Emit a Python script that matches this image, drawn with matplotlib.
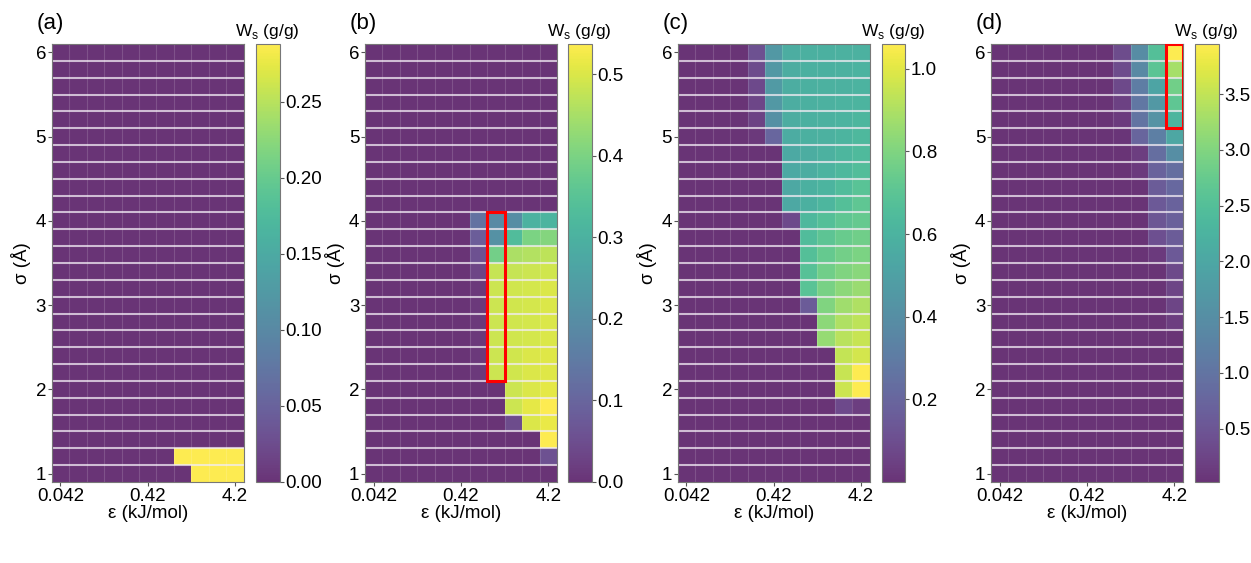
import numpy as np
import matplotlib
matplotlib.use("Agg")
import matplotlib.pyplot as plt
from matplotlib.patches import Rectangle

plt.rcParams['font.family'] = ['Liberation Sans', 'DejaVu Sans']

# epsilon (kJ/mol), log spaced columns
eps = [0.042, 0.0666, 0.1055, 0.1673, 0.2651, 0.42, 0.6657, 1.055, 1.672, 2.650, 4.2]
# sigma (A) rows, bottom to top
sigma = [1.0, 1.2, 1.4, 1.6, 1.8, 2.0, 2.2, 2.4, 2.6, 2.8, 3.0, 3.2, 3.4,
         3.6, 3.8, 4.0, 4.2, 4.4, 4.6, 4.8, 5.0, 5.2, 5.4, 5.6, 5.8, 6.0]

# W_s (g/g), rows written from sigma=6.0 (top) down to sigma=1.0
ws_a = [[0.0] * 11 for _ in range(24)] + [
    [0, 0, 0, 0, 0, 0, 0, 0.288, 0.288, 0.288, 0.288],
    [0, 0, 0, 0, 0, 0, 0, 0, 0.288, 0.288, 0.288],
]

ws_b = [[0.0] * 11 for _ in range(10)] + [
    [0, 0, 0, 0, 0, 0, 0.13, 0.19, 0.20, 0.30, 0.31],
    [0, 0, 0, 0, 0, 0, 0.08, 0.21, 0.33, 0.40, 0.41],
    [0, 0, 0, 0, 0, 0, 0.055, 0.39, 0.455, 0.46, 0.47],
    [0, 0, 0, 0, 0, 0, 0.03, 0.48, 0.48, 0.485, 0.49],
    [0, 0, 0, 0, 0, 0, 0.01, 0.485, 0.49, 0.495, 0.50],
    [0, 0, 0, 0, 0, 0, 0.01, 0.485, 0.49, 0.495, 0.50],
    [0, 0, 0, 0, 0, 0, 0.01, 0.485, 0.49, 0.495, 0.50],
    [0, 0, 0, 0, 0, 0, 0.01, 0.485, 0.49, 0.495, 0.50],
    [0, 0, 0, 0, 0, 0, 0.01, 0.485, 0.49, 0.50, 0.505],
    [0, 0, 0, 0, 0, 0, 0.01, 0.485, 0.49, 0.50, 0.505],
    [0, 0, 0, 0, 0, 0, 0, 0, 0.485, 0.50, 0.51],
    [0, 0, 0, 0, 0, 0, 0, 0, 0.485, 0.51, 0.537],
    [0, 0, 0, 0, 0, 0, 0, 0, 0.045, 0.50, 0.515],
    [0, 0, 0, 0, 0, 0, 0, 0, 0, 0, 0.535],
    [0, 0, 0, 0, 0, 0, 0, 0, 0, 0, 0.055],
    [0, 0, 0, 0, 0, 0, 0, 0, 0, 0, 0],
]

ws_c = [
    [0, 0, 0, 0, 0.11, 0.45, 0.57, 0.58, 0.58, 0.59, 0.59],
    [0, 0, 0, 0, 0.09, 0.45, 0.57, 0.58, 0.58, 0.59, 0.60],
    [0, 0, 0, 0, 0.08, 0.46, 0.57, 0.58, 0.59, 0.59, 0.60],
    [0, 0, 0, 0, 0.07, 0.45, 0.57, 0.58, 0.59, 0.60, 0.61],
    [0, 0, 0, 0, 0.05, 0.41, 0.57, 0.58, 0.59, 0.60, 0.62],
    [0, 0, 0, 0, 0.02, 0.20, 0.56, 0.58, 0.59, 0.61, 0.63],
    [0, 0, 0, 0, 0, 0, 0.55, 0.57, 0.59, 0.62, 0.64],
    [0, 0, 0, 0, 0, 0, 0.55, 0.57, 0.60, 0.63, 0.66],
    [0, 0, 0, 0, 0, 0, 0.54, 0.58, 0.61, 0.65, 0.69],
    [0, 0, 0, 0, 0, 0, 0.54, 0.58, 0.62, 0.67, 0.71],
    [0, 0, 0, 0, 0, 0, 0.08, 0.63, 0.67, 0.71, 0.73],
    [0, 0, 0, 0, 0, 0, 0, 0.65, 0.70, 0.74, 0.76],
    [0, 0, 0, 0, 0, 0, 0, 0.67, 0.73, 0.77, 0.79],
    [0, 0, 0, 0, 0, 0, 0, 0.68, 0.76, 0.80, 0.82],
    [0, 0, 0, 0, 0, 0, 0, 0.69, 0.78, 0.83, 0.86],
    [0, 0, 0, 0, 0, 0, 0, 0.15, 0.80, 0.87, 0.90],
    [0, 0, 0, 0, 0, 0, 0, 0, 0.83, 0.90, 0.93],
    [0, 0, 0, 0, 0, 0, 0, 0, 0.85, 0.92, 0.95],
    [0, 0, 0, 0, 0, 0, 0, 0, 0, 0.94, 0.97],
    [0, 0, 0, 0, 0, 0, 0, 0, 0, 0.95, 1.06],
    [0, 0, 0, 0, 0, 0, 0, 0, 0, 0.96, 1.06],
    [0, 0, 0, 0, 0, 0, 0, 0, 0, 0.08, 0.04],
] + [[0.0] * 11 for _ in range(4)]

b = 0.02
ws_d = [
    [b, b, b, b, b, b, b, 0.35, 1.45, 2.50, 3.95],
    [b, b, b, b, b, b, b, 0.35, 1.40, 2.60, 3.30],
    [b, b, b, b, b, b, b, 0.30, 1.15, 1.95, 2.85],
    [b, b, b, b, b, b, b, 0.20, 1.05, 1.70, 2.65],
    [b, b, b, b, b, b, b, 0.10, 1.00, 1.60, 2.30],
    [b, b, b, b, b, b, b, 0.05, 0.75, 1.20, 2.00],
    [b, b, b, b, b, b, b, b, 0.15, 0.90, 1.50],
    [b, b, b, b, b, b, b, b, 0.10, 0.70, 0.90],
    [b, b, b, b, b, b, b, b, b, 0.60, 0.80],
    [b, b, b, b, b, b, b, b, b, 0.55, 0.70],
    [b, b, b, b, b, b, b, b, b, 0.50, 0.65],
    [b, b, b, b, b, b, b, b, b, 0.40, 0.60],
    [b, b, b, b, b, b, b, b, b, 0.10, 0.55],
    [b, b, b, b, b, b, b, b, b, b, 0.30],
    [b, b, b, b, b, b, b, b, b, b, 0.25],
    [b, b, b, b, b, b, b, b, b, b, 0.25],
    [b, b, b, b, b, b, b, b, b, b, 0.15],
] + [[b] * 11 for _ in range(9)]

panels = [
    ("(a)", ws_a, [0.00, 0.05, 0.10, 0.15, 0.20, 0.25], "%.2f", None),
    ("(b)", ws_b, [0.0, 0.1, 0.2, 0.3, 0.4, 0.5], "%.1f", (7, 2.2, 4.0)),
    ("(c)", ws_c, [0.2, 0.4, 0.6, 0.8, 1.0], "%.1f", None),
    ("(d)", ws_d, [0.5, 1.0, 1.5, 2.0, 2.5, 3.0, 3.5], "%.1f", (10, 5.2, 6.0)),
]

# cell edges (geometric for the log axis)
e = np.array(eps)
s = np.array(sigma)
xe = np.sqrt(e[:-1] * e[1:])
xe = np.concatenate([[e[0] ** 2 / xe[0]], xe, [e[-1] ** 2 / xe[-1]]])
ye = (s[:-1] + s[1:]) / 2
ye = np.concatenate([[s[0] - 0.1], ye, [s[-1] + 0.1]])

W, H = 1251, 563
fig = plt.figure(figsize=(W / 100, H / 100), dpi=100)

ax_left = [51.7, 365, 677.7, 991]
cb_left = [256, 568, 881.7, 1195]
top, bot = 44, 482
fs = 13.5

for i, (lab, ws, cticks, fmt, box) in enumerate(panels):
    ax = fig.add_axes([ax_left[i] / W, 1 - bot / H, 192 / W, (bot - top) / H])
    cax = fig.add_axes([cb_left[i] / W, 1 - bot / H, 23.5 / W, (bot - top) / H])
    Z = np.array(ws, dtype=float)[::-1]
    m = ax.pcolormesh(xe, ye, Z, cmap='viridis', alpha=0.8, shading='flat')
    ax.set_xscale('log')
    ax.set_xlim(xe[0], xe[-1])
    ax.set_ylim(ye[0], ye[-1])
    for y in ye[1:-1]:
        ax.axhline(y, color='#f2ecf4', lw=1.5, alpha=0.75)
    for x in xe[1:-1]:
        ax.axvline(x, color='white', lw=0.8, alpha=0.15)
    ax.set_xticks([0.042, 0.42, 4.2])
    ax.set_xticklabels(["0.042", "0.42", "4.2"])
    ax.minorticks_off()
    ax.set_yticks([1, 2, 3, 4, 5, 6])
    ax.tick_params(labelsize=fs, length=3, pad=1, color='#555555')
    ax.set_xlabel("ε (kJ/mol)", fontsize=fs, labelpad=0)
    ax.set_ylabel("σ (Å)", fontsize=fs, labelpad=3)
    for sp in ax.spines.values():
        sp.set_color('#777777')
        sp.set_linewidth(0.8)
    if box is not None:
        c, y0, y1 = box
        r0 = sigma.index(y0)
        r1 = sigma.index(y1)
        ax.add_patch(Rectangle((xe[c], ye[r0]), xe[c + 1] - xe[c], ye[r1 + 1] - ye[r0],
                               fill=False, ec='red', lw=2.2, zorder=5))

    cb = fig.colorbar(m, cax=cax)
    cb.set_ticks(cticks)
    cb.ax.yaxis.set_major_formatter(matplotlib.ticker.FormatStrFormatter(fmt))
    cb.ax.tick_params(labelsize=fs, length=3, pad=1, color='#555555')
    cb.outline.set_edgecolor('#777777')
    cb.outline.set_linewidth(0.8)
    cb.ax.set_title("W$_{\\mathregular{s}}$ (g/g)", fontsize=12.5, pad=6)

    fig.text((ax_left[i] - 15) / W, 1 - 23 / H, lab, fontsize=16, va='center', ha='left')

fig.savefig("out.png", dpi=100)
